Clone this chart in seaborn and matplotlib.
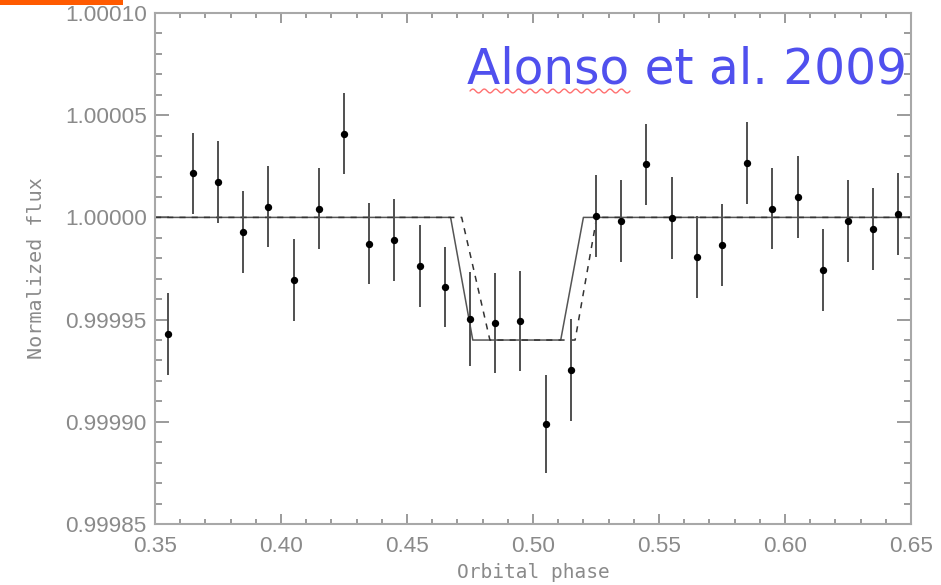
import numpy as np
import pandas as pd
import matplotlib
matplotlib.use("Agg")
import matplotlib.pyplot as plt
from matplotlib.ticker import MultipleLocator, FormatStrFormatter
from matplotlib.patches import Rectangle
from matplotlib.lines import Line2D
import seaborn as sns

# ---- data ----
phase = [0.355, 0.365, 0.375, 0.385, 0.395, 0.405, 0.415, 0.425, 0.435, 0.445,
         0.455, 0.465, 0.475, 0.485, 0.495, 0.505, 0.515, 0.525, 0.535, 0.545,
         0.555, 0.565, 0.575, 0.585, 0.595, 0.605, 0.615, 0.625, 0.635, 0.645]
flux = [0.999943, 1.0000215, 1.0000175, 0.999993, 1.0000053, 0.9999695, 1.0000043,
        1.000041, 0.9999872, 0.9999891, 0.9999761, 0.9999659, 0.9999501, 0.9999484,
        0.9999493, 0.9998991, 0.9999252, 1.0000007, 0.9999983, 1.0000259, 0.9999996,
        0.9999806, 0.9999864, 1.0000266, 1.0000043, 1.0000099, 0.9999743, 0.9999983,
        0.9999944, 1.0000016]
flux_err = [2.0e-5, 2.0e-5, 2.0e-5, 2.0e-5, 2.0e-5, 2.0e-5, 2.0e-5, 2.0e-5, 2.0e-5, 2.0e-5,
            2.0e-5, 1.95e-5, 2.3e-5, 2.45e-5, 2.45e-5, 2.4e-5, 2.5e-5, 2.0e-5, 2.0e-5, 2.0e-5,
            2.0e-5, 2.0e-5, 2.0e-5, 2.0e-5, 2.0e-5, 2.0e-5, 2.0e-5, 2.0e-5, 2.0e-5, 2.0e-5]

model_a_phase = [0.35, 0.4673, 0.4761, 0.5110, 0.5200, 0.65]
model_a_flux = [1.0, 1.0, 0.99994, 0.99994, 1.0, 1.0]
model_b_phase = [0.35, 0.4717, 0.4829, 0.5167, 0.5253, 0.65]
model_b_flux = [1.0, 1.0, 0.99994, 0.99994, 1.0, 1.0]

x_ticks = [0.35, 0.40, 0.45, 0.50, 0.55, 0.60, 0.65]
y_ticks = [0.99985, 0.99990, 0.99995, 1.00000, 1.00005, 1.00010]

annotation = "Alonso et al. 2009"

df = pd.DataFrame({"phase": phase, "flux": flux, "err": flux_err})
ma = pd.DataFrame({"phase": model_a_phase, "flux": model_a_flux})
mb = pd.DataFrame({"phase": model_b_phase, "flux": model_b_flux})

sns.set_theme(style="white")
plt.rcParams["font.family"] = ["Liberation Sans", "DejaVu Sans"]

fig = plt.figure(figsize=(9.41, 5.85), dpi=100)
ax = fig.add_axes([155 / 941, 61 / 585, 756 / 941, 511 / 585])

grey = "#8a8a8a"

# model curves
sns.lineplot(data=ma, x="phase", y="flux", ax=ax, color="#555555", lw=1.1,
             estimator=None, sort=False, zorder=2)
sns.lineplot(data=mb, x="phase", y="flux", ax=ax, color="#333333", lw=1.1,
             estimator=None, sort=False, zorder=2, linestyle=(0, (4, 4)))

# error bars + points
ax.errorbar(df["phase"], df["flux"], yerr=df["err"], fmt="none",
            ecolor="#505050", elinewidth=1.4, capsize=0, zorder=3)
sns.scatterplot(data=df, x="phase", y="flux", ax=ax, color="black", s=28,
                edgecolor="black", linewidth=0, zorder=4)

ax.set_xlim(0.35, 0.65)
ax.set_ylim(0.99985, 1.00010)
ax.set_xticks(x_ticks)
ax.set_yticks(y_ticks)
ax.xaxis.set_minor_locator(MultipleLocator(0.01))
ax.yaxis.set_minor_locator(MultipleLocator(0.00001))
ax.xaxis.set_major_formatter(FormatStrFormatter("%.2f"))
ax.yaxis.set_major_formatter(FormatStrFormatter("%.5f"))

ax.tick_params(axis="both", which="both", direction="in", colors=grey,
               top=True, right=True, bottom=True, left=True, width=1.2)
ax.tick_params(axis="x", which="major", length=7, pad=9, labelsize=16.2, labelcolor=grey)
ax.tick_params(axis="x", which="minor", length=3.5)
ax.tick_params(axis="y", which="major", length=10, pad=6, labelsize=16.2, labelcolor=grey)
ax.tick_params(axis="y", which="minor", length=5)

for sp in ax.spines.values():
    sp.set_color("#a8a8a8")
    sp.set_linewidth(1.5)

ax.set_xlabel("Orbital phase", family=["DejaVu Sans Mono"], fontsize=14,
              color=grey, labelpad=4)
ax.set_ylabel("Normalized flux", family=["DejaVu Sans Mono"], fontsize=14.5,
              color=grey)
ax.yaxis.set_label_coords(-0.144, 0.50)

# annotation with red wavy underline
ax.text(0.4125, 0.862, annotation, transform=ax.transAxes, fontsize=35,
        family=["DejaVu Sans"], color="#5050ee", ha="left",
        va="baseline", zorder=5)
wx = np.linspace(470, 630, 120)
wy = 585 - 91 + 2.0 * np.sin((wx - 470) / 160 * 2 * np.pi * 14)
fig.add_artist(Line2D(wx / 941, wy / 585, transform=fig.transFigure,
                      color="#ff7070", lw=1.0))

# orange bar at top-left
fig.add_artist(Rectangle((0, 580 / 585), 123 / 941, 5 / 585,
                         transform=fig.transFigure, color="#ff5a00", lw=0))

fig.savefig("out.png", dpi=100, facecolor="white")
